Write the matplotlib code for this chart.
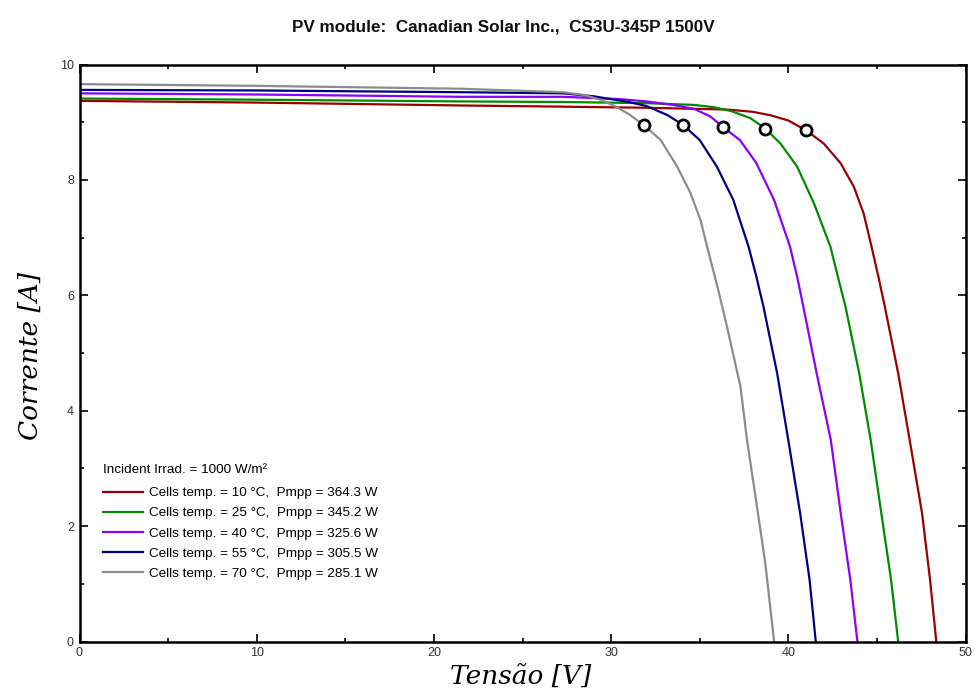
import matplotlib
matplotlib.use("Agg")
import matplotlib.pyplot as plt
from matplotlib.ticker import MultipleLocator

title = "PV module:  Canadian Solar Inc.,  CS3U-345P 1500V"
legend_title = "Incident Irrad. = 1000 W/m²"
labels = [
    "Cells temp. = 10 °C,  Pmpp = 364.3 W",
    "Cells temp. = 25 °C,  Pmpp = 345.2 W",
    "Cells temp. = 40 °C,  Pmpp = 325.6 W",
    "Cells temp. = 55 °C,  Pmpp = 305.5 W",
    "Cells temp. = 70 °C,  Pmpp = 285.1 W",
]
colors = ["#9b0000", "#008a00", "#8b00ff", "#00007f", "#8c8c8c"]

v_10 = [0, 10, 21.5, 27.1, 32, 36.5, 38.0, 39.0, 40.0, 41.0, 42.0, 42.95, 43.7, 44.25, 44.7, 45.1, 45.45, 46.2, 46.85, 47.55, 48.0, 48.35]
i_10 = [9.37, 9.34, 9.29, 9.27, 9.25, 9.22, 9.18, 9.12, 9.03, 8.86, 8.63, 8.29, 7.88, 7.42, 6.84, 6.30, 5.8, 4.65, 3.49, 2.22, 1.07, 0]

v_25 = [0, 10, 21.5, 27.3, 32, 34.66, 35.8, 36.8, 37.86, 38.7, 39.56, 40.5, 41.44, 42.38, 42.8, 43.23, 44.0, 44.65, 45.25, 45.8, 46.2]
i_25 = [9.41, 9.39, 9.36, 9.35, 9.33, 9.30, 9.26, 9.19, 9.07, 8.89, 8.63, 8.23, 7.6, 6.84, 6.32, 5.8, 4.65, 3.49, 2.22, 1.07, 0]

v_40 = [0, 10, 21.5, 27.3, 30.5, 32.0, 33.5, 34.7, 35.6, 36.3, 37.27, 38.2, 39.2, 40.1, 40.5, 40.85, 41.6, 42.4, 42.96, 43.5, 43.9]
i_40 = [9.50, 9.48, 9.44, 9.44, 9.40, 9.36, 9.30, 9.23, 9.10, 8.92, 8.69, 8.29, 7.65, 6.84, 6.32, 5.8, 4.65, 3.49, 2.22, 1.07, 0]

v_55 = [0, 10, 21.5, 27.3, 29.0, 30.0, 31.0, 32.0, 33.2, 34.07, 35.0, 35.97, 36.9, 37.76, 38.2, 38.6, 39.37, 40.0, 40.67, 41.2, 41.55]
i_55 = [9.56, 9.55, 9.52, 9.50, 9.45, 9.40, 9.35, 9.28, 9.12, 8.95, 8.69, 8.23, 7.65, 6.84, 6.32, 5.8, 4.65, 3.49, 2.22, 1.07, 0]

v_70 = [0, 10, 21.5, 27.3, 28.5, 29.5, 30.2, 31.0, 31.85, 32.8, 33.73, 34.48, 35.05, 35.42, 36.0, 36.5, 37.3, 37.67, 38.15, 38.7, 39.2]
i_70 = [9.66, 9.63, 9.58, 9.52, 9.47, 9.38, 9.28, 9.14, 8.95, 8.69, 8.23, 7.77, 7.30, 6.84, 6.15, 5.51, 4.42, 3.49, 2.51, 1.36, 0]

mpp_v = [41.0, 38.7, 36.3, 34.07, 31.85]
mpp_i = [8.86, 8.89, 8.92, 8.95, 8.95]

curves_v = [v_10, v_25, v_40, v_55, v_70]
curves_i = [i_10, i_25, i_40, i_55, i_70]

plt.rcParams['font.family'] = ['Liberation Sans', 'DejaVu Sans']

fig = plt.figure(figsize=(9.76, 6.95), dpi=100)
ax = fig.add_axes([79.5/976, 1-641.5/695, (965.5-79.5)/976, (641.5-64.5)/695])

handles = []
for v, i, c, lab in zip(curves_v, curves_i, colors, labels):
    h, = ax.plot(v, i, color=c, lw=1.6, label=lab, solid_joinstyle='round')
    handles.append(h)

ax.plot(mpp_v, mpp_i, linestyle='none', marker='o', markersize=8,
        markerfacecolor='white', markeredgecolor='black', markeredgewidth=2, zorder=5)

ax.set_xlim(0, 50)
ax.set_ylim(0, 10)
ax.xaxis.set_major_locator(MultipleLocator(10))
ax.xaxis.set_minor_locator(MultipleLocator(5))
ax.yaxis.set_major_locator(MultipleLocator(2))
ax.yaxis.set_minor_locator(MultipleLocator(1))
ax.tick_params(which='both', direction='in', top=True, right=True, width=1.2,
               labelsize=9, labelcolor='#333333', pad=4)
ax.tick_params(which='major', length=6)
ax.tick_params(which='minor', length=3)
for s in ax.spines.values():
    s.set_linewidth(1.8)

ax.set_xlabel("Tensão [V]", family='DejaVu Serif', style='italic', fontsize=19)
ax.set_ylabel("Corrente [A]", family='DejaVu Serif', style='italic', fontsize=19)
ax.xaxis.set_label_coords(0.498, -0.038)
ax.yaxis.set_label_coords(-0.042, 0.495)

fig.text(503/976, 1-27/695, title, ha='center', va='center', fontsize=12.3, fontweight='bold', color='#111111')

leg = ax.legend(handles=handles, loc='upper left', bbox_to_anchor=(0.0265, 0.308),
                frameon=False, title=legend_title, alignment='left', fontsize=9.7,
                title_fontsize=9.7, handlelength=2.95, handletextpad=0.5, labelspacing=0.57,
                borderaxespad=0, borderpad=0)
leg._legend_box.sep = 8

fig.savefig("out.png", dpi=100)
